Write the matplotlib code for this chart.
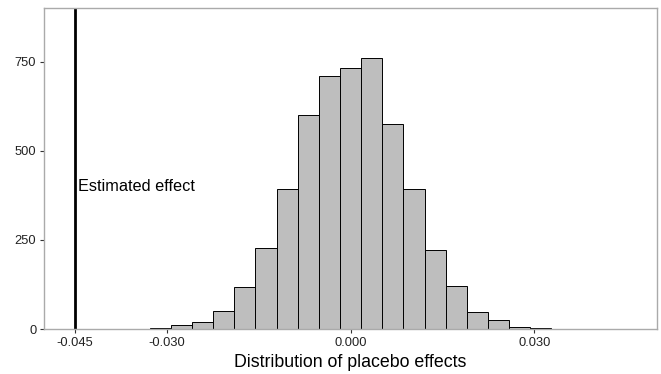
import matplotlib
matplotlib.use("Agg")
import matplotlib.pyplot as plt
import numpy as np

plt.rcParams['font.family'] = ['Liberation Sans', 'DejaVu Sans']

# histogram of placebo effects (bin centres are multiples of bin_width)
bin_width = 0.00345
bin_index = list(range(-9, 10))
counts = [4, 10, 20, 51, 118, 227, 393, 599, 709, 731, 760, 576, 392, 221, 120, 48, 24, 5, 3]

estimated_effect = -0.045
x_ticks = [-0.045, -0.030, 0.000, 0.030]
x_tick_labels = ["-0.045", "-0.030", "0.000", "0.030"]
y_ticks = [0, 250, 500, 750]

fig = plt.figure(figsize=(6.61, 3.74), dpi=100)
ax = fig.add_axes([0.0666, 0.1203, 0.9274, 0.8583])

centers = np.array(bin_index) * bin_width
ax.bar(centers, counts, width=bin_width, color='#BEBEBE', edgecolor='black', linewidth=0.7)

ax.axvline(estimated_effect, color='black', linewidth=2)
ax.text(estimated_effect + 0.0005, 400, "Estimated effect", fontsize=11.7, va='center', ha='left')

ax.set_xlim(-0.05, 0.05)
ax.set_ylim(0, 900)
ax.set_xticks(x_ticks)
ax.set_xticklabels(x_tick_labels)
ax.set_yticks(y_ticks)
ax.tick_params(labelsize=9.3, length=3, color='#333333', labelcolor='#222222', pad=2.5)
for s in ax.spines.values():
    s.set_color('#AAAAAA')
    s.set_linewidth(1)

ax.set_xlabel("Distribution of placebo effects", fontsize=12.8, labelpad=4)

fig.savefig("out.png", dpi=100)
